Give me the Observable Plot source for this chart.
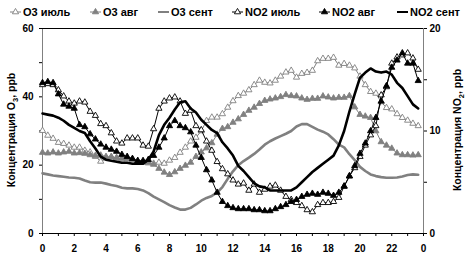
<!DOCTYPE html>
<html><head><meta charset="utf-8">
<script src="https://cdn.jsdelivr.net/npm/d3@7"></script>
<script src="https://cdn.jsdelivr.net/npm/@observablehq/plot@0.6"></script>
<style>body{margin:0;background:#fff;} #chart{width:468px;height:253px;}</style>
</head><body><div id="chart"></div>
<script>
// Diurnal series, one value every 20 minutes from 0:00 to 23:40
const o3Jul = [30.1, 28.7, 27.8, 26.6, 26.3, 25.8, 25.2, 25.2, 24.3, 23.8, 22.5, 21.1, 22.0, 22.5, 22.0, 21.8, 22.2, 21.8, 21.0, 20.8, 20.6,
  20.5, 20.8, 20.5, 21.4, 22.2, 23.7, 25.2, 27.0, 28.1, 30.0, 33.0, 34.0, 34.0, 35.0, 36.9, 38.8, 40.3, 41.0, 42.0, 43.5, 44.8,
  44.2, 44.0, 44.8, 46.0, 47.2, 47.7,
  45.7, 46.8, 47.1, 47.7, 50.5, 51.2, 51.2, 51.5, 49.2, 49.7, 49.2, 48.4, 46.0, 43.5, 41.5, 41.0, 38.5, 36.8, 36.4, 35.0, 33.9, 33.1, 32.2, 31.5];
const o3Aug = [23.7, 23.5, 23.8, 23.5, 23.8, 24.0, 23.5, 23.6, 23.4, 23.0, 22.8, 22.9, 22.5, 22.4, 22.2, 22.0, 21.8, 21.5, 21.3, 21.0, 20.8,
  20.2, 19.0, 17.9, 17.2, 18.0, 19.0, 19.9, 20.8, 22.5, 23.8, 25.0, 26.5, 29.0, 30.7, 31.2, 32.5, 33.5, 34.8, 36.0, 36.9, 38.0,
  38.9, 39.3, 39.6, 40.0, 40.6, 40.3, 40.2, 39.6, 39.2, 39.5, 39.5, 40.2, 39.9, 39.6, 39.8, 39.8, 40.3, 37.0,
  34.8, 34.3, 33.9, 30.0, 26.8, 25.8, 24.9, 23.5, 23.0, 23.0, 22.9, 23.0];
const o3Sep = [17.6, 17.3, 17.0, 16.8, 16.6, 16.4, 16.3, 16.1, 15.5, 15.0, 14.9, 14.9, 14.6, 14.2, 13.9, 13.4, 13.2, 13.2, 13.0, 12.6, 11.8,
  10.8, 10.0, 9.2, 8.3, 7.6, 7.0, 7.0, 7.5, 8.5, 9.6, 10.4, 11.0, 12.0, 13.6, 16.0, 18.2, 20.0, 21.2, 22.2, 23.3, 24.6,
  26.0, 27.0, 27.8, 28.5, 29.2, 30.0, 31.3, 32.0, 32.0, 31.2, 30.4, 29.8, 29.0, 27.6, 26.0, 25.2, 23.2, 21.5,
  19.5, 18.3, 17.3, 16.8, 16.5, 16.3, 16.3, 16.4, 16.7, 17.1, 17.3, 17.2];
const no2Jul = [14.5, 14.6, 14.5, 14.0, 13.4, 12.9, 12.7, 12.9, 12.8, 11.9, 11.5, 10.7, 10.5, 9.8, 9.0, 8.8, 9.3, 9.3, 9.3, 8.6, 8.5,
  10.2, 12.2, 12.9, 13.2, 13.3, 12.9, 11.7, 12.0, 10.5, 10.1, 9.0, 8.1, 7.0, 6.3, 5.8, 5.2, 4.8, 4.9, 4.2, 4.8, 4.0,
  4.3, 4.6, 4.7, 4.2, 3.6, 3.3, 3.0, 2.7, 2.3, 2.1, 2.8, 3.0, 3.0, 3.1, 3.5, 4.6, 5.6, 6.4,
  7.5, 8.6, 9.6, 10.5, 13.5, 14.3, 16.6, 17.2, 17.4, 17.6, 17.1, 16.0];
const no2Aug = [14.7, 14.8, 14.7, 13.6, 12.6, 12.4, 12.2, 10.6, 10.4, 9.7, 9.2, 8.7, 8.4, 8.2, 8.0, 7.7, 7.5, 7.3, 7.1, 7.1, 7.2,
  7.6, 8.4, 9.3, 10.5, 11.0, 10.5, 10.3, 9.9, 8.6, 7.4, 6.2, 5.2, 4.0, 3.1, 2.7, 2.5, 2.4, 2.4, 2.4, 2.3, 2.3,
  2.2, 2.2, 2.4, 2.6, 2.8, 3.1, 3.3, 3.6, 3.8, 3.9, 3.8, 4.0, 3.9, 3.7, 4.0, 4.6, 5.6, 6.6,
  7.8, 8.8, 10.0, 11.3, 12.9, 14.4, 16.2, 16.9, 17.6, 16.6, 16.6, 14.9];
const no2Sep = [11.7, 11.6, 11.5, 11.3, 11.0, 10.6, 10.3, 10.0, 9.8, 9.0, 8.3, 7.5, 7.2, 7.1, 7.0, 6.9, 6.9, 6.8, 6.8, 6.8, 7.2,
  8.0, 9.6, 10.6, 11.3, 12.1, 12.8, 12.9, 12.2, 11.8, 11.1, 10.6, 10.1, 9.8, 8.9, 8.3, 7.6, 6.6, 6.1, 5.5, 4.9, 4.6,
  4.5, 4.2, 4.2, 4.2, 4.2, 4.2, 4.5, 5.0, 5.5, 6.0, 6.4, 6.8, 7.2, 7.6, 8.6, 10.0, 11.9, 13.6,
  15.2, 15.7, 16.1, 15.8, 15.7, 15.8, 15.5, 14.7, 14.2, 13.4, 12.6, 12.2];

const seriesNames = ["O3 июль", "O3 авг", "O3 сент", "NO2 июль", "NO2 авг", "NO2 сент"];
const xTickLabels = [0, 2, 4, 6, 8, 10, 12, 14, 16, 18, 20, 22, 24];
const o3TickLabels = [0, 20, 40, 60];
const no2TickLabels = [0, 10, 20];
const leftTitle = ["Концентрация O", "3", ", ppb"];
const rightTitle = ["Концентрация NO", "2", ", ppb"];

const ratio = 3; // 60 ppb O3 on the left equals 20 ppb NO2 on the right
const hours = d3.range(o3Jul.length).map(i => i / 3);
const rows = (vals, k) => vals.map((v, i) => ({h: hours[i], v: v * k}));

const gray = "#808080";
const specs = [
  {data: rows(o3Jul, 1), stroke: gray, sw: 1, marker: true, fill: "white", mstroke: gray},
  {data: rows(o3Aug, 1), stroke: gray, sw: 1, marker: true, fill: gray, mstroke: gray},
  {data: rows(o3Sep, 1), stroke: gray, sw: 2.6, marker: false},
  {data: rows(no2Jul, ratio), stroke: "black", sw: 1, marker: true, fill: "white", mstroke: "black"},
  {data: rows(no2Aug, ratio), stroke: "black", sw: 1, marker: true, fill: "black", mstroke: "black"},
  {data: rows(no2Sep, ratio), stroke: "black", sw: 2.6, marker: false}
];

const seriesMarks = [];
for (const s of specs) {
  seriesMarks.push(Plot.line(s.data, {x: "h", y: "v", stroke: s.stroke, strokeWidth: s.sw}));
  if (s.marker) seriesMarks.push(Plot.dot(s.data, {x: "h", y: "v", symbol: "triangle", r: 2.3, fill: s.fill, stroke: s.mstroke, strokeWidth: 0.9}));
}

const svg = Plot.plot({
  width: 468, height: 253,
  marginTop: 28, marginBottom: 20, marginLeft: 42, marginRight: 45,
  style: {fontFamily: "'Liberation Sans', Arial, sans-serif", fontSize: "10px", fontWeight: "bold", background: "white", color: "black"},
  x: {domain: [0, 24]},
  y: {domain: [0, 60]},
  marks: [
    Plot.axisX({ticks: d3.range(0, 25), tickSize: 3, tickFormat: () => "", label: null}),
    Plot.axisX({ticks: xTickLabels, tickSize: 0, tickPadding: 11, tickFormat: d => d % 24, label: null}),
    Plot.axisY({ticks: d3.range(0, 61, 10), tickSize: 3, tickFormat: () => "", label: null}),
    Plot.axisY({ticks: o3TickLabels, tickSize: 0, tickPadding: 9, label: null}),
    Plot.axisY({anchor: "right", ticks: d3.range(0, 61, 15), tickSize: 3, tickFormat: () => "", label: null}),
    Plot.axisY({anchor: "right", ticks: no2TickLabels.map(d => d * ratio), tickSize: 0, tickPadding: 6, tickFormat: d => d / ratio, label: null}),
    Plot.ruleX([0], {stroke: gray}),
    Plot.ruleX([24], {stroke: gray}),
    Plot.ruleY([60], {stroke: "black"}),
    Plot.ruleY([0], {stroke: "black"}),
    ...seriesMarks
  ]
});
document.getElementById("chart").appendChild(svg);

// Legend (inside the SVG, above the plot frame)
const sel = d3.select(svg);
const legendX = [10, 90, 158, 232, 319, 397];
const lg = sel.append("g").attr("font-family", "'Liberation Sans', Arial, sans-serif")
  .attr("font-size", 11).attr("font-weight", "bold").attr("text-anchor", "start");
specs.forEach((s, i) => {
  const x0 = legendX[i], y0 = 12;
  lg.append("line").attr("x1", x0).attr("x2", x0 + 11).attr("y1", y0).attr("y2", y0)
    .attr("stroke", s.stroke).attr("stroke-width", s.marker ? 1 : 2);
  if (s.marker) {
    lg.append("path").attr("d", d3.symbol(d3.symbolTriangle, 2.3 * 2.3 * Math.PI)())
      .attr("transform", `translate(${x0 + 5.5},${y0})`)
      .attr("fill", s.fill).attr("stroke", s.mstroke).attr("stroke-width", 0.9);
  }
  lg.append("text").attr("x", x0 + 13).attr("y", y0 + 4).attr("text-anchor", "start").attr("fill", "black").text(seriesNames[i]);
});

// Axis titles with subscripts
function title(x, parts) {
  const t = sel.append("text").attr("transform", `translate(${x},130) rotate(-90)`)
    .attr("text-anchor", "middle").attr("font-family", "'Liberation Sans', Arial, sans-serif")
    .attr("font-size", 10.5).attr("font-weight", "bold").attr("fill", "black");
  t.append("tspan").text(parts[0]);
  t.append("tspan").attr("font-size", 7.5).attr("dy", 2.5).text(parts[1]);
  t.append("tspan").attr("dy", -2.5).text(parts[2]);
}
title(15, leftTitle);
title(461, rightTitle);
</script>
</body></html>
